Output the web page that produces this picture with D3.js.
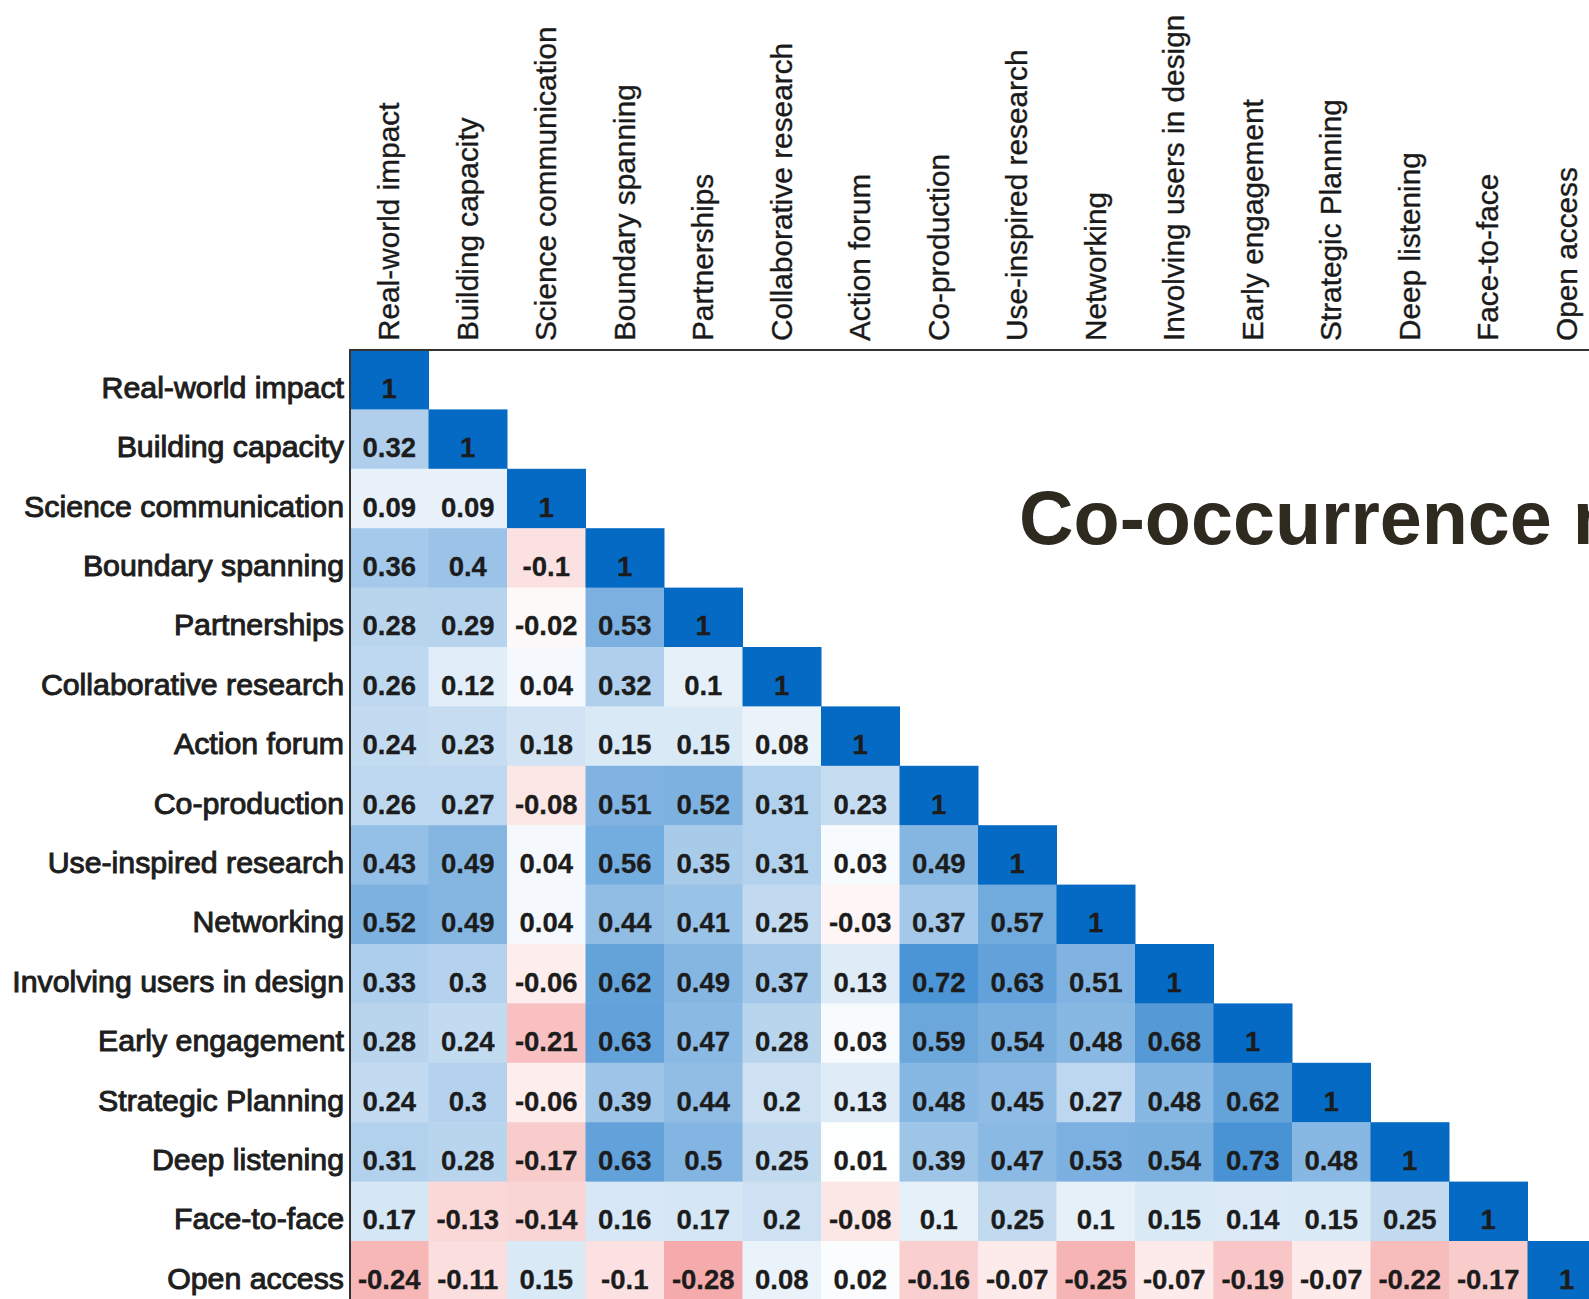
<!DOCTYPE html>
<html>
<head>
<meta charset="utf-8">
<script src="https://cdn.jsdelivr.net/npm/d3@7"></script>
<style>
  html, body { margin: 0; padding: 0; overflow: hidden; background: #ffffff; }
  svg { display: block; }
</style>
</head>
<body>
<svg id="chart" width="1589" height="1299"></svg>
<script>
// ---- data ----
const categories = [
  "Real-world impact", "Building capacity", "Science communication", "Boundary spanning",
  "Partnerships", "Collaborative research", "Action forum", "Co-production",
  "Use-inspired research", "Networking", "Involving users in design", "Early engagement",
  "Strategic Planning", "Deep listening", "Face-to-face", "Open access"
];

// lower triangle (row i holds columns 0..i)
const row0  = [1];
const row1  = [0.32, 1];
const row2  = [0.09, 0.09, 1];
const row3  = [0.36, 0.4, -0.1, 1];
const row4  = [0.28, 0.29, -0.02, 0.53, 1];
const row5  = [0.26, 0.12, 0.04, 0.32, 0.1, 1];
const row6  = [0.24, 0.23, 0.18, 0.15, 0.15, 0.08, 1];
const row7  = [0.26, 0.27, -0.08, 0.51, 0.52, 0.31, 0.23, 1];
const row8  = [0.43, 0.49, 0.04, 0.56, 0.35, 0.31, 0.03, 0.49, 1];
const row9  = [0.52, 0.49, 0.04, 0.44, 0.41, 0.25, -0.03, 0.37, 0.57, 1];
const row10 = [0.33, 0.3, -0.06, 0.62, 0.49, 0.37, 0.13, 0.72, 0.63, 0.51, 1];
const row11 = [0.28, 0.24, -0.21, 0.63, 0.47, 0.28, 0.03, 0.59, 0.54, 0.48, 0.68, 1];
const row12 = [0.24, 0.3, -0.06, 0.39, 0.44, 0.2, 0.13, 0.48, 0.45, 0.27, 0.48, 0.62, 1];
const row13 = [0.31, 0.28, -0.17, 0.63, 0.5, 0.25, 0.01, 0.39, 0.47, 0.53, 0.54, 0.73, 0.48, 1];
const row14 = [0.17, -0.13, -0.14, 0.16, 0.17, 0.2, -0.08, 0.1, 0.25, 0.1, 0.15, 0.14, 0.15, 0.25, 1];
const row15 = [-0.24, -0.11, 0.15, -0.1, -0.28, 0.08, 0.02, -0.16, -0.07, -0.25, -0.07, -0.19, -0.07, -0.22, -0.17, 1];

const title = "Co-occurrence matrix";

// ---- build ----
const rows = [row0, row1, row2, row3, row4, row5, row6, row7, row8, row9, row10, row11, row12, row13, row14, row15];
const cells = [];
rows.forEach((vals, i) => vals.forEach((v, j) => cells.push({ row: categories[i], col: categories[j], v })));

const FONT = "'Liberation Sans', Arial, Helvetica, sans-serif";
const svg = d3.select("#chart");

const gridLeft = 350, gridTop = 350, cw = 78.5, rh = 59.4;
const x = d3.scaleBand().domain(categories).range([gridLeft, gridLeft + cw * categories.length]).padding(0);
const y = d3.scaleBand().domain(categories).range([gridTop, gridTop + rh * categories.length]).padding(0);
const color = d3.scaleLinear().domain([-0.85, 0, 1]).range(["#e10000", "#ffffff", "#056ac4"]).clamp(true);

// cells
svg.append("g").selectAll("rect").data(cells).join("rect")
  .attr("x", d => x(d.col))
  .attr("y", d => y(d.row))
  .attr("width", x.bandwidth() + 0.5)
  .attr("height", y.bandwidth() + 0.5)
  .attr("fill", d => color(d.v));

// cell values
svg.append("g").selectAll("text").data(cells).join("text")
  .attr("x", d => x(d.col) + x.bandwidth() / 2)
  .attr("y", d => y(d.row) + y.bandwidth() / 2 + 18)
  .attr("text-anchor", "middle")
  .attr("font-family", FONT)
  .attr("font-size", 27.5)
  .attr("font-weight", "bold")
  .attr("fill", "#1c1c1c")
  .attr("stroke", "#1c1c1c")
  .attr("stroke-width", 0.3)
  .text(d => String(d.v));

// column axis (top)
const gx = svg.append("g").attr("transform", `translate(0,${gridTop})`)
  .call(d3.axisTop(x).tickSize(0).tickSizeOuter(0));
gx.attr("font-family", null).attr("font-size", null);
gx.select(".domain").attr("stroke", "#333").attr("stroke-width", 2)
  .attr("d", `M${gridLeft - 1},0H1589`);
gx.selectAll(".tick text")
  .attr("transform", "rotate(-90)")
  .attr("x", 9).attr("y", 10).attr("dy", 0)
  .attr("text-anchor", "start")
  .attr("font-family", FONT)
  .attr("font-size", 29.8)
  .attr("fill", "#1a1a1a")
  .attr("stroke", "#1a1a1a")
  .attr("stroke-width", 0.35);

// row axis (left)
const gy = svg.append("g").attr("transform", `translate(${gridLeft},0)`)
  .call(d3.axisLeft(y).tickSize(0).tickSizeOuter(0).tickPadding(6));
gy.attr("font-family", null).attr("font-size", null);
gy.select(".domain").attr("stroke", "#333").attr("stroke-width", 2)
  .attr("d", `M0,${gridTop - 1}V1299`);
gy.selectAll(".tick text")
  .attr("dy", 0).attr("y", 18)
  .attr("text-anchor", "end")
  .attr("font-family", FONT)
  .attr("font-size", 30.3)
  .attr("fill", "#1e1e1e")
  .attr("stroke", "#1e1e1e")
  .attr("stroke-width", 1.0);

// title
svg.append("text")
  .attr("x", 1019)
  .attr("y", 544)
  .attr("font-family", FONT)
  .attr("font-size", 75.5)
  .attr("font-weight", "bold")
  .attr("fill", "#2e2a1f")
  .text(title);
</script>
</body>
</html>
